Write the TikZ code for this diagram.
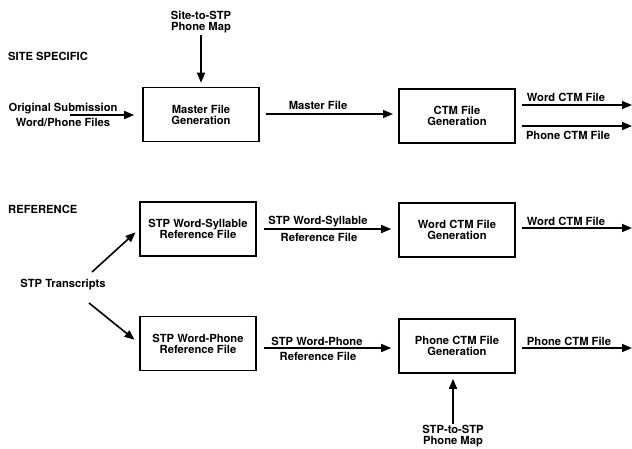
\documentclass[tikz,border=0pt]{standalone}
\usepackage{fontspec}
\setmainfont{TeX Gyre Heros}
\usetikzlibrary{arrows.meta}

\begin{document}
\begin{tikzpicture}[x=1pt,y=-1pt,
  font=\fontsize{11.2}{11}\selectfont\bfseries,
  box/.style={draw,line width=1.6pt,minimum width=116pt,minimum height=54pt,align=center,inner sep=0pt},
  lbl/.style={align=center,inner sep=0pt},
  arr/.style={line width=1.6pt,-{Triangle[length=10pt,width=8pt]},shorten >=6pt,shorten <=6pt}]
  \useasboundingbox (0,0) rectangle (632,448);
  % site specific row
  \node[lbl,anchor=west] (site) at (8,56) {SITE SPECIFIC};
  \node[lbl] (smap) at (201,22) {Site-to-STP\\Phone Map};
  \node[lbl] (orig) at (63,114.5) {Original Submission\\[4pt]Word/Phone Files};
  \node[box] (master) at (201,114.5) {Master File\\Generation};
  \node[box] (ctm) at (457,116) {CTM File\\Generation};
  \node[lbl] (mfile) at (318,105) {Master File};
  \node[lbl] (wfile) at (566,97) {Word CTM File};
  \node[lbl] (pfile) at (568,135) {Phone CTM File};
  \coordinate (origout) at (70,115);
  \coordinate (mend) at (393,114);
  \coordinate (wend) at (632,105);
  \coordinate (pend) at (632,126);
  \draw[arr,shorten <=2pt,shorten >=4pt] (smap.south) -- (master.north);
  \draw[arr,shorten <=0pt,shorten >=8pt] (origout) -- (master.west |- origout);
  \draw[arr,shorten >=0pt] (master.east |- mend) -- (mend);
  \draw[arr,shorten >=0pt] (ctm.east |- wend) -- (wend);
  \draw[arr,shorten >=0pt] (ctm.east |- pend) -- (pend);
  % reference rows
  \node[lbl,anchor=west] (ref) at (8,209) {REFERENCE};
  \node[lbl] (trans) at (63,285) {STP Transcripts};
  \node[box] (syl) at (198,229) {STP Word-Syllable\\Reference File};
  \node[box] (pho) at (198,343.5) {STP Word-Phone\\Reference File};
  \node[box] (wctm) at (457,230) {Word CTM File\\Generation};
  \node[box] (pctm) at (457,346) {Phone CTM File\\Generation};
  \node[lbl] (sylfile) at (318,222) {STP Word-Syllable};
  \node[lbl] (sylref) at (319,237) {Reference File};
  \node[lbl] (phofile) at (317,341) {STP Word-Phone};
  \node[lbl] (phoref) at (318,356) {Reference File};
  \node[lbl] (wout) at (566,221) {Word CTM File};
  \node[lbl] (pout) at (569,341) {Phone CTM File};
  \node[lbl] (pmap) at (453,436) {STP-to-STP\\Phone Map};
  \coordinate (tup) at (92,272);
  \coordinate (tdown) at (89,303);
  \coordinate (wend2) at (632,228);
  \coordinate (pend2) at (632,348);
  \draw[arr,shorten <=0pt,shorten >=5pt] (tup) -- (syl.west);
  \draw[arr,shorten <=0pt,shorten >=6pt] (tdown) -- (pho.west);
  \draw[arr,shorten <=7pt,shorten >=7pt] (syl.east) -- (wctm.west |- syl.east);
  \draw[arr,shorten <=7pt,shorten >=7pt] (pho.east |- pend2) -- (pctm.west |- pend2);
  \draw[arr,shorten >=0pt] (wctm.east |- wend2) -- (wend2);
  \draw[arr,shorten >=0pt] (pctm.east |- pend2) -- (pend2);
  \draw[arr,shorten <=1pt,shorten >=5pt] (pmap.north) -- (pmap.north |- pctm.south);
\end{tikzpicture}
\end{document}
